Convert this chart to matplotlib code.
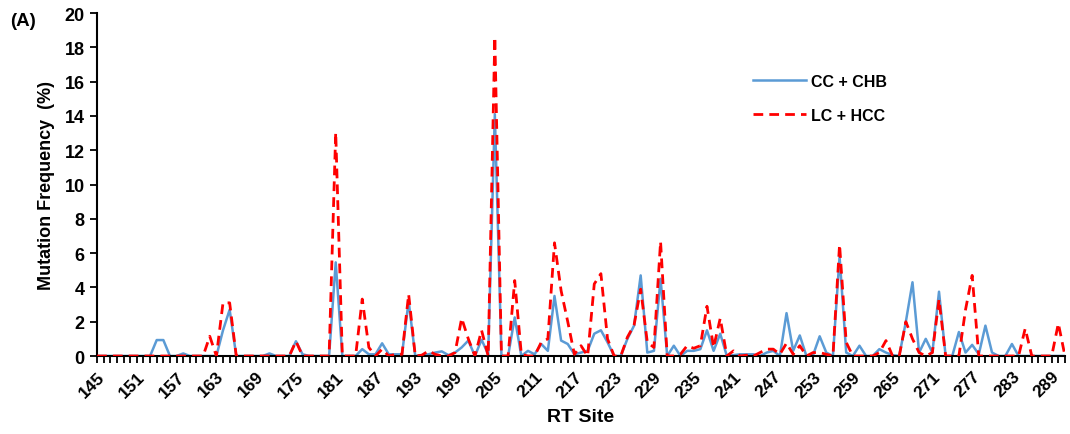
import numpy as np
import matplotlib
matplotlib.use("Agg")
import matplotlib.pyplot as plt

plt.rcParams['font.family'] = ['Liberation Sans', 'DejaVu Sans']
plt.rcParams['font.weight'] = 'bold'

# RT sites 145..291
sites = list(range(145, 292))

# CC + CHB
cc_chb = [
    0, 0, 0, 0, 0, 0, 0, 0,            # 145-152
    0, 0.93, 0.93, 0, 0, 0.15, 0, 0,   # 153-160
    0, 0, 0, 1.5, 2.7, 0, 0, 0,        # 161-168
    0, 0, 0.15, 0, 0, 0, 0.86, 0.1,    # 169-176
    0, 0, 0, 0, 5.46, 0, 0, 0,         # 177-184
    0.4, 0.1, 0.1, 0.74, 0.1, 0.1, 0.1, 3.2,   # 185-192
    0, 0.05, 0.1, 0.2, 0.27, 0.05, 0.2, 0.5,   # 193-200
    0.9, 0, 0.95, 0.1, 14.1, 0, 0, 2.25,       # 201-208
    0, 0.3, 0.1, 0.7, 0.3, 3.5, 0.9, 0.7,      # 209-216
    0.1, 0.2, 0.3, 1.3, 1.5, 0.8, 0, 0,        # 217-224
    1.0, 1.77, 4.7, 0.2, 0.3, 4.5, 0, 0.6,     # 225-232
    0, 0.3, 0.3, 0.4, 1.5, 0.3, 1.3, 0,        # 233-240
    0.05, 0.1, 0.1, 0.1, 0, 0.2, 0.3, 0,       # 241-248
    2.5, 0.3, 1.2, 0, 0.05, 1.15, 0.2, 0,      # 249-256
    5.8, 0.2, 0, 0.6, 0, 0, 0.4, 0.2,          # 257-264
    0.05, 0, 2.0, 4.3, 0.2, 1.0, 0.2, 3.75,    # 265-272
    0, 0, 1.4, 0.2, 0.65, 0.1, 1.77, 0.2,      # 273-280
    0, 0, 0.7, 0, 0, 0, 0, 0,                  # 281-288
    0, 0, 0,                                   # 289-291
]

# LC + HCC
lc_hcc = [
    0, 0, 0, 0, 0, 0, 0, 0,            # 145-152
    0, 0, 0, 0, 0, 0, 0, 0,            # 153-160
    0, 1.15, 0, 3.1, 3.1, 0, 0, 0,     # 161-168
    0, 0, 0, 0, 0, 0, 0.86, 0,         # 169-176
    0, 0, 0, 0, 13.04, 0, 0, 0,        # 177-184
    3.32, 0.5, 0, 0.4, 0, 0.1, 0.1, 3.6,       # 185-192
    0, 0.05, 0.3, 0.1, 0, 0, 0.2, 2.2,         # 193-200
    1.0, 0, 1.5, 0, 18.6, 0, 0, 4.4,           # 201-208
    0.1, 0, 0, 0.8, 1.0, 6.6, 3.8, 2.0,        # 209-216
    0.1, 0.6, 0, 4.2, 4.8, 1.0, 0, 0,          # 217-224
    1.1, 1.8, 3.9, 0.8, 0.5, 6.67, 0, 0,       # 225-232
    0.1, 0.6, 0.45, 0.6, 2.9, 0.5, 2.2, 0,     # 233-240
    0.3, 0, 0.05, 0, 0.2, 0.4, 0.4, 0.1,       # 241-248
    0.75, 0.1, 0.6, 0, 0.2, 0.2, 0.1, 0,       # 249-256
    6.5, 0.8, 0, 0, 0, 0, 0.2, 0.9,            # 257-264
    0, 0, 2.0, 1.0, 0.2, 0, 0.2, 3.3,          # 265-272
    0, 0, 0, 2.7, 4.7, 0, 0, 0,                # 273-280
    0, 0, 0, 0, 1.6, 0, 0, 0,                  # 281-288
    0, 1.9, 0,                                 # 289-291
]

fig = plt.figure(figsize=(10.7, 4.35), dpi=100)
ax = fig.add_axes([0.0907, 0.1793, 0.9046, 0.7885])

ax.plot(sites, cc_chb, '-', color='#5B9BD5', lw=1.8, label='CC + CHB', zorder=2)
ax.plot(sites, lc_hcc, '--', color='#FF0000', lw=2.0, dashes=(3.5, 2.2), label='LC + HCC', zorder=3)

ax.set_xlim(145, 291)
ax.set_ylim(0, 20)
ax.set_yticks(np.arange(0, 21, 2))
ax.set_xticks(sites, minor=True)
ax.set_xticks(sites[::6])
ax.set_xticklabels([str(s) for s in sites[::6]], rotation=45, ha='right',
                   rotation_mode='anchor', fontsize=12.5, fontweight='bold')
for lab in ax.get_yticklabels():
    lab.set_fontsize(13)
    lab.set_fontweight('bold')

ax.tick_params(axis='x', which='both', direction='out', length=5, width=1.3, pad=4)
ax.tick_params(axis='y', direction='out', length=5, width=1.3, pad=4)
ax.spines['top'].set_visible(False)
ax.spines['right'].set_visible(False)
ax.spines['left'].set_linewidth(1.5)
ax.spines['bottom'].set_linewidth(1.5)

ax.set_xlabel('RT Site', fontsize=14, fontweight='bold', labelpad=6)
ax.set_ylabel('Mutation Frequency  (%)', fontsize=13, fontweight='bold', labelpad=7)

ax.legend(loc='upper left', bbox_to_anchor=(0.663, 0.865), frameon=False,
          handlelength=3.3, handletextpad=0.35, labelspacing=1.2,
          prop={'weight': 'bold', 'size': 11.5})

fig.text(0.009, 0.94, '(A)', fontsize=13.5, fontweight='bold')

fig.savefig('out.png', dpi=100)
